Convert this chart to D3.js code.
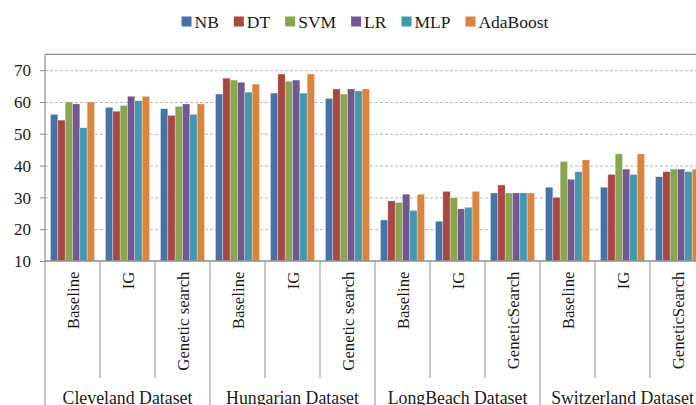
<!DOCTYPE html>
<html><head><meta charset="utf-8">
<script src="https://cdn.jsdelivr.net/npm/d3@7/dist/d3.min.js"></script>
</head><body style="margin:0;background:#fff"><svg id="c" width="696" height="405" style="display:block"></svg>
<script>
const datasets = ["Cleveland Dataset","Hungarian Dataset","LongBeach Dataset","Switzerland Dataset"];
const methods = [
  ["Baseline","IG","Genetic search"],
  ["Baseline","IG","Genetic search"],
  ["Baseline","IG","GeneticSearch"],
  ["Baseline","IG","GeneticSearch"]
];
const series = ["NB","DT","SVM","LR","MLP","AdaBoost"];
const colors = ["#4572A7","#AA4643","#89A54E","#71588F","#4198AF","#DB843D"];
// values per category (dataset x method), in series order
const NB       = [56.1,58.3,57.9, 62.5,62.8,61.1, 22.9,22.5,31.4, 33.2,33.2,36.5];
const DT       = [54.3,57.1,55.8, 67.5,68.8,64.1, 28.9,31.9,33.9, 30.0,37.2,38.1];
const SVM      = [60.0,58.9,58.6, 66.9,66.5,62.5, 28.4,29.9,31.4, 41.3,43.7,38.9];
const LR       = [59.4,61.8,59.4, 66.2,66.9,64.1, 31.0,26.4,31.4, 35.7,38.9,38.9];
const MLP      = [51.9,60.4,56.1, 63.1,62.8,63.5, 25.9,26.9,31.4, 38.1,37.2,38.1];
const AdaBoost = [60.0,61.8,59.4, 65.6,68.8,64.1, 31.0,31.9,31.4, 41.8,43.7,38.9];
const yTicks = [10,20,30,40,50,60,70];

(function(){
const FONT = "'Liberation Serif'";
const TXT = "#1a1a1a";
const seriesVals = [NB,DT,SVM,LR,MLP,AdaBoost];
const cats = [];
datasets.forEach((d,i)=>methods[i].forEach(m=>cats.push({ds:i,m})));

const svg = d3.select("#c").style("font-family",FONT);
const pL=45, pR=705, pT=54.3, pB=261;
const x0 = d3.scaleBand().domain(d3.range(cats.length)).range([pL,pR]).padding(0);
const x1 = d3.scaleBand().domain(series).range([0,x0.bandwidth()]).paddingInner(0).paddingOuter(0.75);
const y = d3.scaleLinear().domain([10,75]).range([pB,pT]);
const color = d3.scaleOrdinal().domain(series).range(colors);

// gridlines
svg.append("g").selectAll("line").data(yTicks.filter(t=>t>10)).join("line")
  .attr("x1",pL).attr("x2",pR).attr("y1",d=>y(d)+0.5).attr("y2",d=>y(d)+0.5)
  .attr("stroke","#b8b8b8").attr("stroke-width",1).attr("stroke-dasharray","3,2");
// top border
svg.append("line").attr("x1",pL).attr("x2",pR).attr("y1",pT).attr("y2",pT)
  .attr("stroke","#8c8c8c").attr("stroke-width",1.2);

// bars
const gb = svg.append("g");
cats.forEach((c,ci)=>{
  gb.append("g").attr("transform",`translate(${x0(ci)},0)`)
    .selectAll("rect").data(series.map((s,si)=>({s,v:seriesVals[si][ci]}))).join("rect")
    .attr("x",d=>x1(d.s)).attr("width",x1.bandwidth())
    .attr("y",d=>y(d.v)).attr("height",d=>y(10)-y(d.v))
    .attr("fill",d=>color(d.s)).attr("stroke","#ffffff").attr("stroke-opacity",0.5).attr("stroke-width",0.6);
});

// y axis
const ya = svg.append("g").attr("transform",`translate(${pL},0)`)
  .call(d3.axisLeft(y).tickValues(yTicks).tickSize(5).tickPadding(9).tickFormat(d3.format("d")));
ya.attr("font-family",null).style("font-family",FONT);
ya.select(".domain").attr("stroke","#8c8c8c").attr("stroke-width",1.2).attr("d",`M0,${pT}V${pB}`);
ya.selectAll(".tick line").attr("stroke","#8c8c8c");
ya.selectAll(".tick text").attr("font-size",17).style("font-family",FONT).attr("fill",TXT).attr("dy","0.34em");

// x axis line
svg.append("line").attr("x1",pL).attr("x2",pR).attr("y1",pB).attr("y2",pB)
  .attr("stroke","#8c8c8c").attr("stroke-width",1.4);
// divider lines
const bounds = d3.range(cats.length+1);
svg.append("g").selectAll("line").data(bounds).join("line")
  .attr("x1",i=>i<cats.length?x0(i):pR).attr("x2",i=>i<cats.length?x0(i):pR)
  .attr("y1",pB).attr("y2",i=>i%3===0?405:378)
  .attr("stroke","#a0a0a0").attr("stroke-width",1.2);

// method labels
svg.append("g").selectAll("text").data(cats).join("text")
  .attr("transform",(c,i)=>`translate(${x0(i)+x0.bandwidth()/2+6},271.5) rotate(-90)`)
  .attr("text-anchor","end").attr("font-size",16.8).style("font-family",FONT).attr("fill",TXT).text(c=>c.m);

// dataset labels
svg.append("g").selectAll("text").data(datasets).join("text")
  .attr("x",(d,i)=>(x0(i*3)+ (i*3+3<cats.length?x0(i*3+3):pR))/2).attr("y",404)
  .attr("text-anchor","middle").attr("font-size",17.8).style("font-family",FONT).attr("fill",TXT).text(d=>d);

// legend
const lg = svg.append("g");
let cx = 0;
series.forEach((s,i)=>{
  const g = lg.append("g").attr("transform",`translate(${cx},0)`);
  g.append("rect").attr("x",0).attr("y",-5).attr("width",10).attr("height",10).attr("fill",color(s));
  const t = g.append("text").attr("x",13).attr("y",0).attr("dy","0.35em").attr("font-size",17.5)
    .style("font-family",FONT).attr("fill",TXT).text(s);
  cx += 13 + t.node().getComputedTextLength() + 15;
});
const lw = cx - 15;
lg.attr("transform",`translate(${365 - lw/2},21.5)`);
})();
</script></body></html>
